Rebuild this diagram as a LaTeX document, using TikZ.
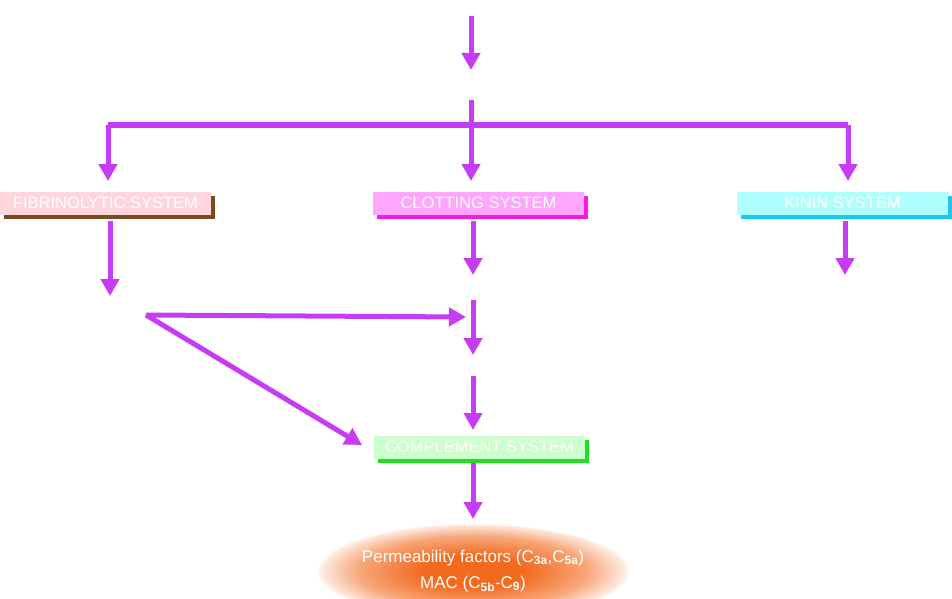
\documentclass[tikz,border=0pt]{standalone}
\usepackage{fontspec}
\setmainfont{Liberation Sans}
\usetikzlibrary{arrows.meta,shadows,shapes.geometric}
\definecolor{arrc}{HTML}{C63CF6}
\definecolor{fibfill}{HTML}{FFD6DC}
\definecolor{fibshad}{HTML}{7A4A1E}
\definecolor{clotfill}{HTML}{FFA6FF}
\definecolor{clotshad}{HTML}{F21CE6}
\definecolor{kinfill}{HTML}{B0FFFF}
\definecolor{kinshad}{HTML}{1CC8F2}
\definecolor{compfill}{HTML}{CCFFCC}
\definecolor{compshad}{HTML}{22DD22}
\definecolor{orng}{HTML}{F26A1E}
\pgfdeclareradialshading{permshade}{\pgfpoint{0bp}{0bp}}{%
  color(0bp)=(orng); color(8bp)=(orng); color(18bp)=(orng!60);
  color(24bp)=(orng!15); color(25bp)=(white); color(50bp)=(white)}
\tikzset{
  arrline/.style={line width=5pt, draw=arrc},
  arrw/.style={line width=5pt, draw=arrc, -{Triangle[width=18pt,length=17pt]}},
  sysbox/.style={minimum width=211pt, minimum height=23pt, inner sep=0pt,
    text=white, font=\fontsize{16.5}{18}\selectfont},
}
\begin{document}
\begin{tikzpicture}[x=1pt,y=-1pt]
\useasboundingbox (0,0) rectangle (952,599);
% boxes
\node[sysbox, fill=fibfill, general shadow={shadow xshift=4pt, shadow yshift=-4pt, fill=fibshad}] (fib) at (105.5,203) {FIBRINOLYTIC SYSTEM};
\node[sysbox, fill=clotfill, general shadow={shadow xshift=4pt, shadow yshift=-4pt, fill=clotshad}] (clot) at (478.5,203) {CLOTTING SYSTEM};
\node[sysbox, fill=kinfill, general shadow={shadow xshift=4pt, shadow yshift=-4pt, fill=kinshad}] (kin) at (842.5,203) {KININ SYSTEM};
\node[sysbox, fill=compfill, general shadow={shadow xshift=4pt, shadow yshift=-4pt, fill=compshad}] (comp) at (479.5,447) {COMPLEMENT SYSTEM};
% ellipse
\node[ellipse, minimum width=288pt, minimum height=96pt, inner sep=0pt,
  shading=permshade, text=white, align=center,
  font=\fontsize{17}{26}\selectfont] (perm) at (473,571)
  {Permeability factors (C$_{\mathbf{3a}}$,C$_{\mathbf{5a}}$)\\MAC (C$_{\mathbf{5b}}$-C$_{\mathbf{9}}$)};
% coordinates
\coordinate (a0) at (471,16);
\coordinate (a1) at (471,70);
\coordinate (b0) at (471,100);
\coordinate (hl) at (108,125);
\coordinate (hr) at (848,125);
\coordinate (hc) at (471,125);
\coordinate (f0) at (110,221);
\coordinate (f1) at (110,296);
\coordinate (c0) at (473,221);
\coordinate (c1) at (473,275);
\coordinate (k0) at (845,221);
\coordinate (k1) at (845,275);
\coordinate (v) at (146,315);
\coordinate (vh) at (466,317);
\coordinate (vd) at (362,445);
\coordinate (d0) at (473,300);
\coordinate (d1) at (473,355);
\coordinate (e0) at (473,376);
\coordinate (e1) at (473,430);
\coordinate (g0) at (473,463);
\coordinate (g1) at (473,519);
% connectors
\draw[arrw] (a0) -- (a1);
\draw[arrline] (hl) -- (hr);
\draw[arrline] (b0) -- (hc);
\draw[arrw] (hc) -- (hc |- 0,181);
\draw[arrw] (hl) -- (hl |- 0,181);
\draw[arrw] (hr) -- (hr |- 0,181);
\draw[arrw] (f0) -- (f1);
\draw[arrw] (c0) -- (c1);
\draw[arrw] (k0) -- (k1);
\draw[arrw] (v) -- (vh);
\draw[arrw] (v) -- (vd);
\draw[arrw] (d0) -- (d1);
\draw[arrw] (e0) -- (e1);
\draw[arrw] (g0) -- (g1);
\end{tikzpicture}
\end{document}
